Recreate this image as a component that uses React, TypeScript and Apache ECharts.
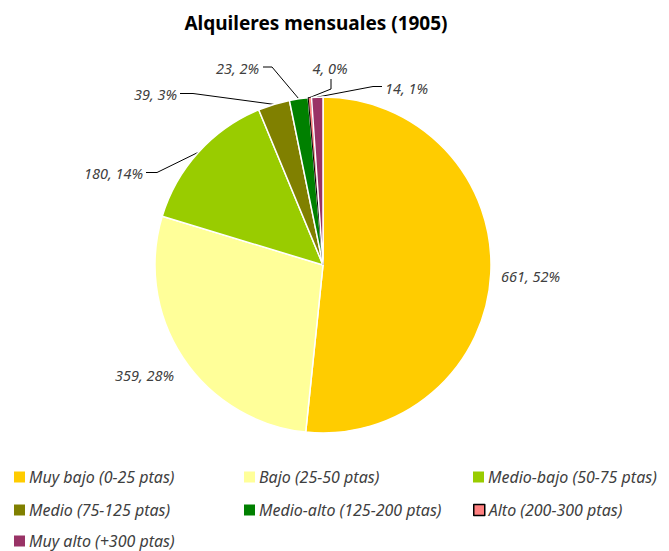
import React, { useEffect, useRef } from "react";
import * as echarts from "echarts";

const categories = [
  "Muy bajo (0-25 ptas)",
  "Bajo (25-50 ptas)",
  "Medio-bajo (50-75 ptas)",
  "Medio (75-125 ptas)",
  "Medio-alto (125-200 ptas)",
  "Alto (200-300 ptas)",
  "Muy alto (+300 ptas)",
];
const values = [661, 359, 180, 39, 23, 4, 14];
const colors = ["#FFCC00", "#FFFF99", "#99CC00", "#808000", "#008000", "#FF8080", "#993366"];

// label anchor [x, y, align] and leader-line elbow/end points
const labelAnchors: [number, number, string][] = [
  [501, 276, "left"],
  [174, 375, "right"],
  [143, 172.5, "right"],
  [177, 94, "right"],
  [259, 67.5, "right"],
  [330, 68, "center"],
  [385, 87.5, "left"],
];
const lineBends: (number[][] | null)[] = [
  null,
  null,
  [[157, 172.5], [146, 172.5]],
  [[193, 93.5], [180, 93.5]],
  [[272, 67], [263, 67]],
  [[331, 89], [331, 79]],
  [[373, 86.5], [382, 86.5]],
];
// legend grid: [column x, row center y]
const legendCols = [14, 244, 473];
const legendRows = [477, 510, 541];

const FONT = "'Noto Sans', 'Open Sans', sans-serif";

export default function App() {
  const ref = useRef<HTMLDivElement>(null);
  useEffect(() => {
    if (!ref.current) return;
    const chart = echarts.init(ref.current, undefined, { renderer: "svg" });
    const total = values.reduce((a, b) => a + b, 0);
    const data = categories.map((name, i) => ({
      name,
      value: values[i],
      itemStyle: {
        color: colors[i],
        borderColor: i === 5 ? "#000000" : "#ffffff",
        borderWidth: i === 5 ? 1 : 1.5,
      },
      labelLine: { show: lineBends[i] !== null },
    }));
    const legends = categories.map((name, i) => {
      const col = i % 3;
      const row = Math.floor(i / 3);
      return {
        data: [
          {
            name,
            itemStyle: i === 5 ? { borderColor: "#000", borderWidth: 1.5 } : { borderWidth: 0 },
          },
        ],
        left: legendCols[col],
        top: legendRows[row] - 9,
        padding: 0,
        itemWidth: 11,
        itemHeight: 11,
        icon: "rect",
        selectedMode: false,
        textStyle: {
          fontFamily: FONT,
          fontStyle: "italic",
          fontSize: 16,
          color: "#404040",
          lineHeight: 18,
          padding: [0, 0, 0, -1],
        },
      };
    });
    chart.setOption({
      animation: false,
      backgroundColor: "#ffffff",
      title: {
        text: "Alquileres mensuales (1905)",
        left: 311,
        textAlign: "center",
        top: 8,
        textStyle: { fontFamily: FONT, fontWeight: "bold", fontSize: 19, color: "#000000" },
      },
      legend: legends,
      series: [
        {
          type: "pie",
          center: [323, 265],
          radius: 168,
          startAngle: 90,
          clockwise: true,
          data,
          label: {
            show: true,
            position: "outside",
            fontFamily: FONT,
            fontStyle: "italic",
            fontSize: 14.5,
            color: "#404040",
            formatter: (p: any) => `${p.value}, ${Math.round((p.value / total) * 100)}%`,
          },
          labelLine: { show: true, lineStyle: { color: "#000000", width: 1 } },
          labelLayout: (params: any) => {
            const i = params.dataIndex;
            const a = labelAnchors[i];
            const res: any = { x: a[0], y: a[1], align: a[2], verticalAlign: "middle" };
            const bends = lineBends[i];
            if (bends && params.labelLinePoints) {
              res.labelLinePoints = [params.labelLinePoints[0], bends[0], bends[1]];
            }
            return res;
          },
        },
      ],
    });
    return () => chart.dispose();
  }, []);
  return (
    <div
      ref={ref}
      style={{ position: "absolute", left: 0, top: 0, width: 669, height: 551 }}
    />
  );
}
